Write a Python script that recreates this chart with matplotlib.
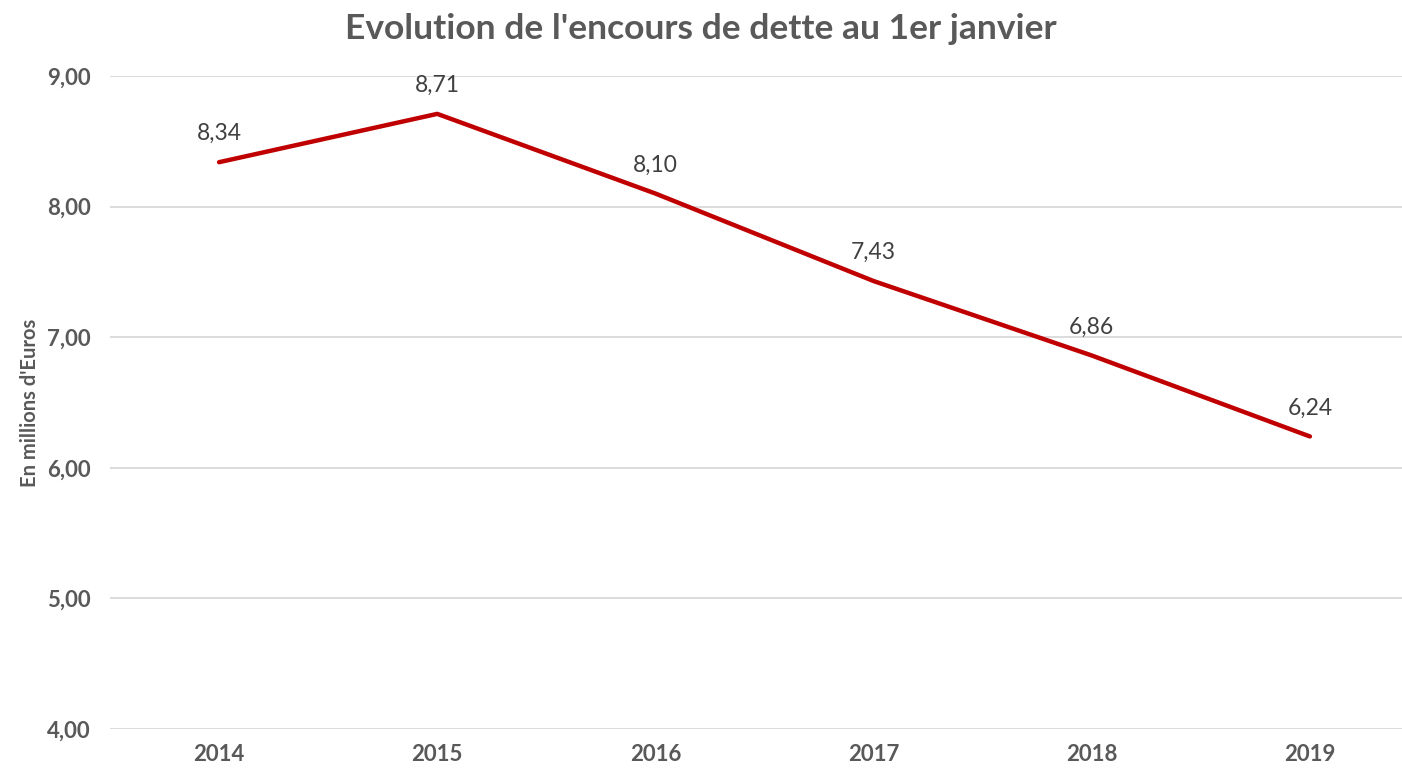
import matplotlib.pyplot as plt

# données
annees = ["2014", "2015", "2016", "2017", "2018", "2019"]
encours = [8.34, 8.71, 8.10, 7.43, 6.86, 6.24]
yticks = [4, 5, 6, 7, 8, 9]

plt.rcParams['font.family'] = ['Lato', 'DejaVu Sans']
gris = "#595959"

fig = plt.figure(figsize=(14.02, 7.71), dpi=100)
ax = fig.add_axes([110 / 1402, 42 / 771, 1309 / 1402, 653 / 771])

x = list(range(len(annees)))
ax.plot(x, encours, color="#C00000", linewidth=3.2, solid_capstyle="round", zorder=3)

for xi, v in zip(x, encours):
    ax.annotate(f"{v:.2f}".replace(".", ","), (xi, v), xytext=(0, 13),
                textcoords="offset points", ha="center", va="bottom",
                fontsize=16.5, color="#404040")

ax.set_xlim(-0.5, len(annees) - 0.5)
ax.set_ylim(4, 9)
ax.set_yticks(yticks)
ax.set_yticklabels([f"{t:.2f}".replace(".", ",") for t in yticks],
                   fontsize=16, fontweight="bold", color=gris)
ax.set_xticks(x)
ax.set_xticklabels(annees, fontsize=16, fontweight="bold", color=gris)
ax.tick_params(length=0, pad=14)
ax.tick_params(axis="x", pad=11)
ax.grid(axis="y", color="#D9D9D9", linewidth=1.3)
ax.set_axisbelow(True)
for s in ax.spines.values():
    s.set_visible(False)

ax.set_ylabel("En millions d'Euros", fontsize=14.5, fontweight="bold", color=gris, labelpad=5)
fig.text(0.5, 0.962, "Evolution de l'encours de dette au 1er janvier", ha="center", va="center",
         fontsize=25.5, fontweight="bold", color=gris)

fig.savefig("out.png", dpi=100)
